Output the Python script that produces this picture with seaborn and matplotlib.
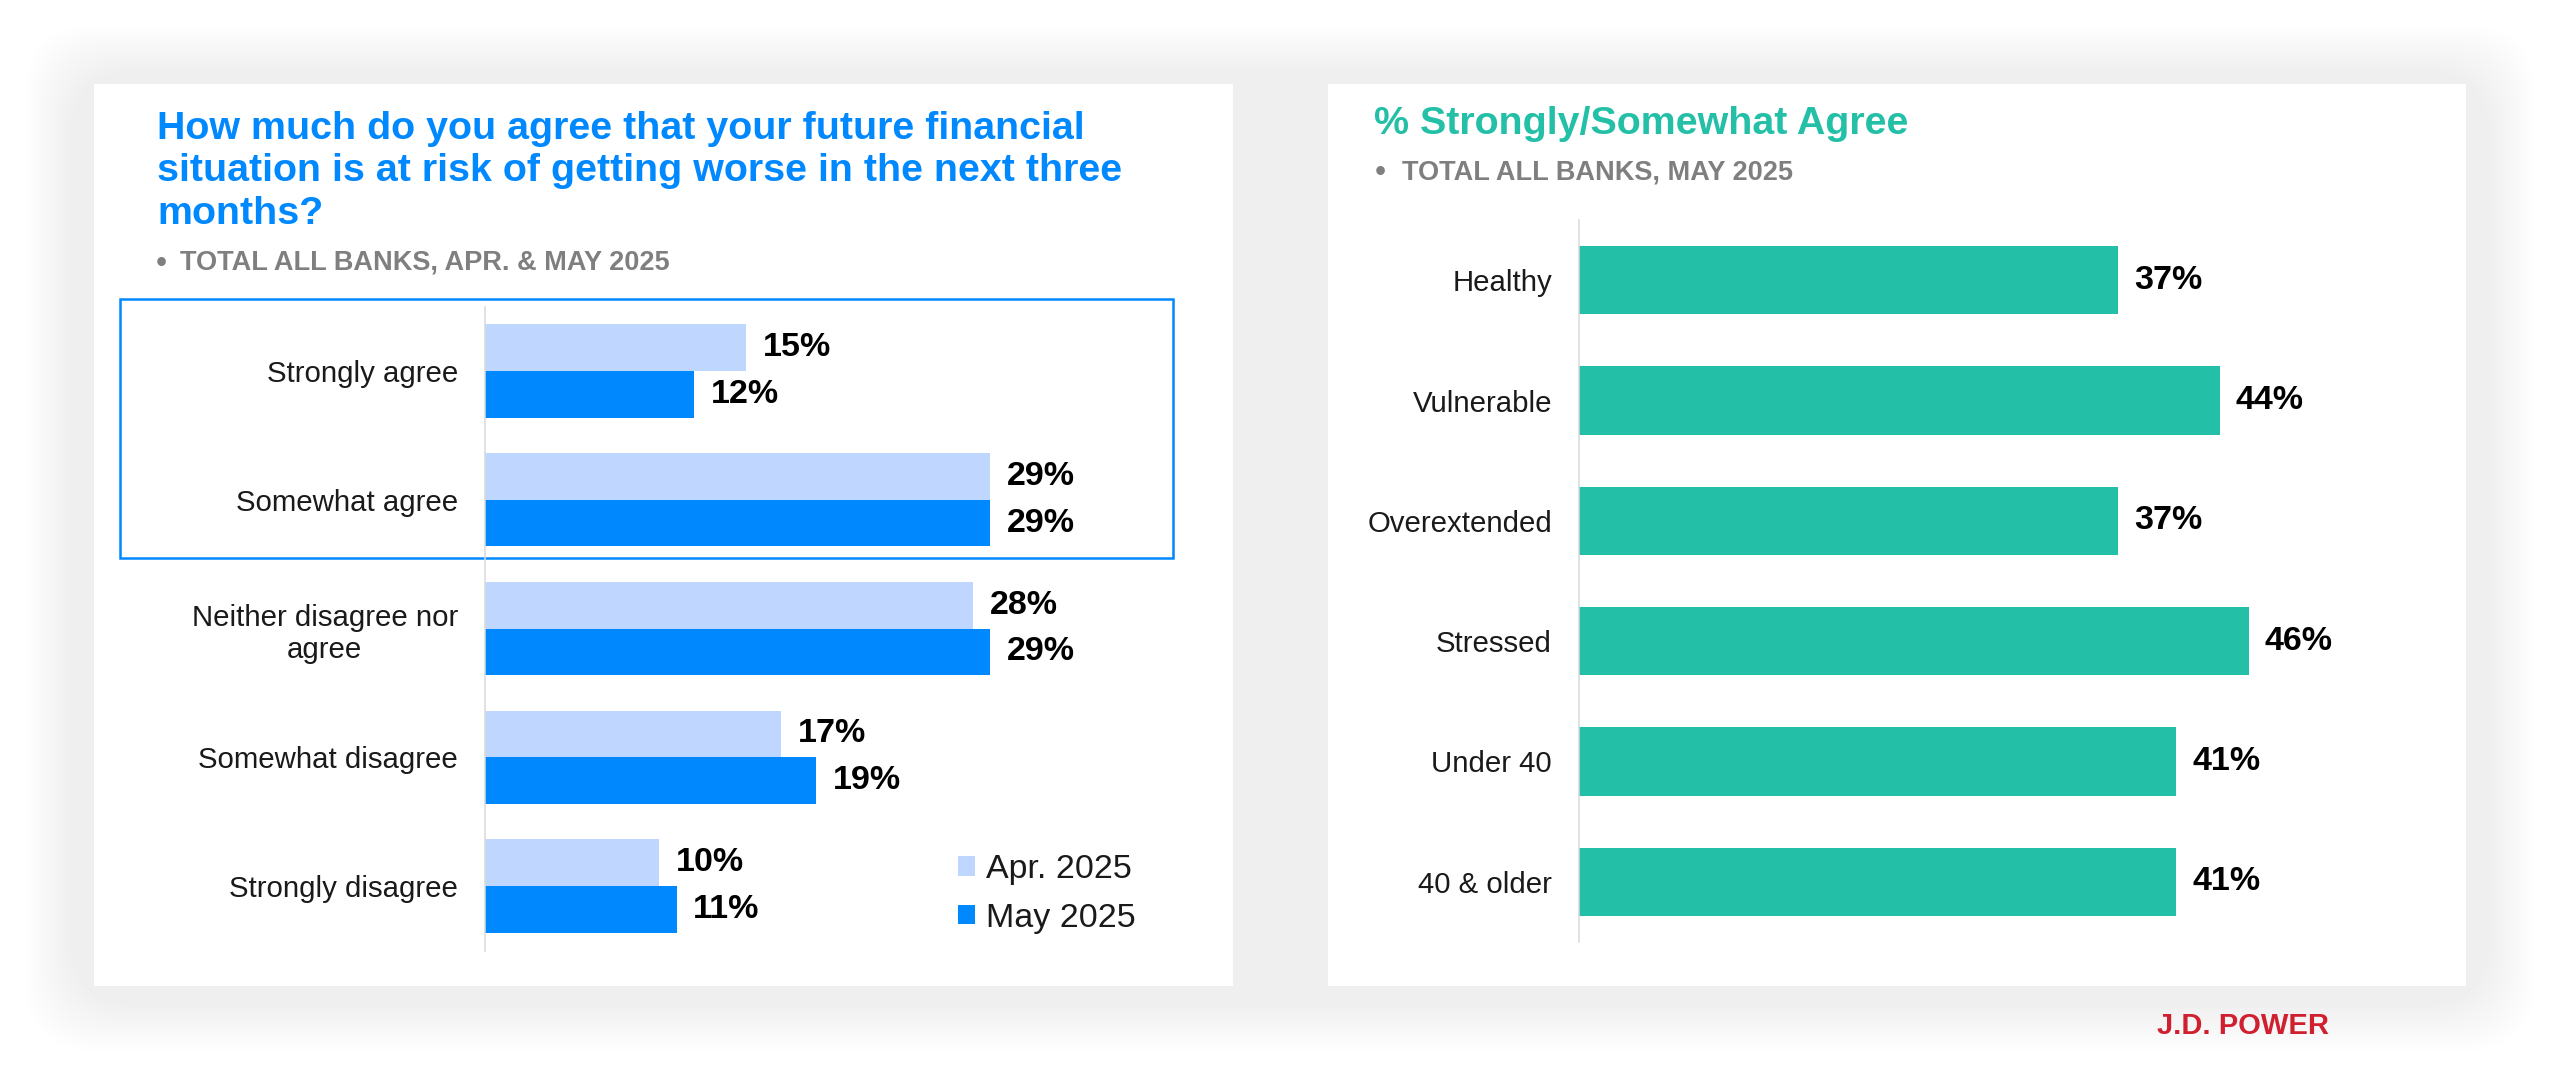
import matplotlib.pyplot as plt
import pandas as pd
import seaborn as sns
from matplotlib.patches import FancyBboxPatch, Rectangle

# data
responses = ["Strongly agree", "Somewhat agree", "Neither disagree nor\nagree",
             "Somewhat disagree", "Strongly disagree"]
periods = ["Apr. 2025", "May 2025"]
apr_2025 = [15, 29, 28, 17, 10]
may_2025 = [12, 29, 29, 19, 11]

segments = ["Healthy", "Vulnerable", "Overextended", "Stressed", "Under 40", "40 & older"]
agree_pct = [37, 44, 37, 46, 41, 41]

left_title = ("How much do you agree that your future financial\n"
              "situation is at risk of getting worse in the next three\n"
              "months?")
left_sub = "TOTAL ALL BANKS, APR. & MAY 2025"
right_title = "% Strongly/Somewhat Agree"
right_sub = "TOTAL ALL BANKS, MAY 2025"

# colours
blue = "#0088FF"
light_blue = "#BFD7FF"
teal = "#23BFA6"
grey_txt = "#7F7F7F"
red = "#D0202F"

W, H = 2560, 1071

sns.set_theme(style="white")
plt.rcParams["font.family"] = ["Liberation Sans", "DejaVu Sans"]

fig = plt.figure(figsize=(W / 100, H / 100), dpi=100, facecolor="white")

# background layer in pixel coordinates
bg = fig.add_axes([0, 0, 1, 1], zorder=0)
bg.set_xlim(0, W)
bg.set_ylim(H, 0)
bg.axis("off")

for i in range(16):
    d = i * 3
    bg.add_patch(FancyBboxPatch((25 + d, 25 + d), W - 50 - 2 * d, H - 45 - 2 * d,
                                boxstyle="round,pad=0,rounding_size=70",
                                facecolor="black", edgecolor="none", alpha=0.0034))

bg.add_patch(Rectangle((94, 84), 1139, 902, facecolor="white", edgecolor="none"))
bg.add_patch(Rectangle((1328, 84), 1138, 902, facecolor="white", edgecolor="none"))

# highlight box around the agree rows
bg.add_patch(Rectangle((120, 299), 1053, 259, facecolor="none", edgecolor=blue, lw=1.8))

# titles
bg.text(157, 111, left_title, color=blue, fontsize=28.4, fontweight="bold",
        ha="left", va="top", linespacing=1.23)
bg.text(161, 272, "\u2022", color=grey_txt, fontsize=23, ha="center", va="baseline")
bg.text(180, 270, left_sub, color=grey_txt, fontsize=19.5, fontweight="bold",
        ha="left", va="baseline")

bg.text(1374, 134, right_title, color=teal, fontsize=28.4, fontweight="bold",
        ha="left", va="baseline")
bg.text(1380, 181, "\u2022", color=grey_txt, fontsize=23, ha="center", va="baseline")
bg.text(1402, 179, right_sub, color=grey_txt, fontsize=19.5, fontweight="bold",
        ha="left", va="baseline")

bg.text(2157, 1034, "J.D. POWER", color=red, fontsize=21, fontweight="bold",
        ha="left", va="baseline")

# left chart
df = pd.DataFrame({
    "response": responses * 2,
    "period": [periods[0]] * len(responses) + [periods[1]] * len(responses),
    "pct": apr_2025 + may_2025,
})

ax1 = fig.add_axes([485 / W, 1 - 950.5 / H, 697 / W, 644 / H], zorder=1)
ax1.patch.set_alpha(0)
sns.barplot(data=df, x="pct", y="response", hue="period", hue_order=periods,
            palette=[light_blue, blue], width=0.725, saturation=1, linewidth=0,
            orient="h", ax=ax1)
ax1.set_xlim(0, 40)
for c in ax1.containers:
    ax1.bar_label(c, labels=[f"{v:.0f}%" for v in c.datavalues], padding=12,
                  fontsize=24.5, fontweight="bold", color="black")

handles, labels = ax1.get_legend_handles_labels()
ax1.legend(handles, labels, loc="upper left", bbox_to_anchor=(958 / W, 1 - 854 / H),
           bbox_transform=fig.transFigure, frameon=False, fontsize=24.5,
           labelcolor="#1A1A1A", handlelength=0.5, handleheight=0.5,
           handletextpad=0.33, labelspacing=0.52, borderpad=0, borderaxespad=0)

# right chart
ax2 = fig.add_axes([1579 / W, 1 - 942 / H, 801 / W, 722 / H], zorder=1)
ax2.patch.set_alpha(0)
sns.barplot(x=agree_pct, y=segments, color=teal, width=0.57, saturation=1,
            linewidth=0, orient="h", ax=ax2)
ax2.set_xlim(0, 55)
for c in ax2.containers:
    ax2.bar_label(c, labels=[f"{v:.0f}%" for v in c.datavalues], padding=11.5,
                  fontsize=24.5, fontweight="bold", color="black")

for ax in (ax1, ax2):
    ax.set_xlabel("")
    ax.set_ylabel("")
    ax.set_xticks([])
    for s in ("top", "right", "bottom"):
        ax.spines[s].set_visible(False)
    ax.spines["left"].set_color("#D9D9D9")
    ax.spines["left"].set_linewidth(1.1)
    ax.tick_params(axis="y", length=0, pad=19.5, labelsize=21.2, labelcolor="#1A1A1A")
    for lbl in ax.get_yticklabels():
        lbl.set_multialignment("center")

fig.savefig("out.png", dpi=100, facecolor=fig.get_facecolor())
